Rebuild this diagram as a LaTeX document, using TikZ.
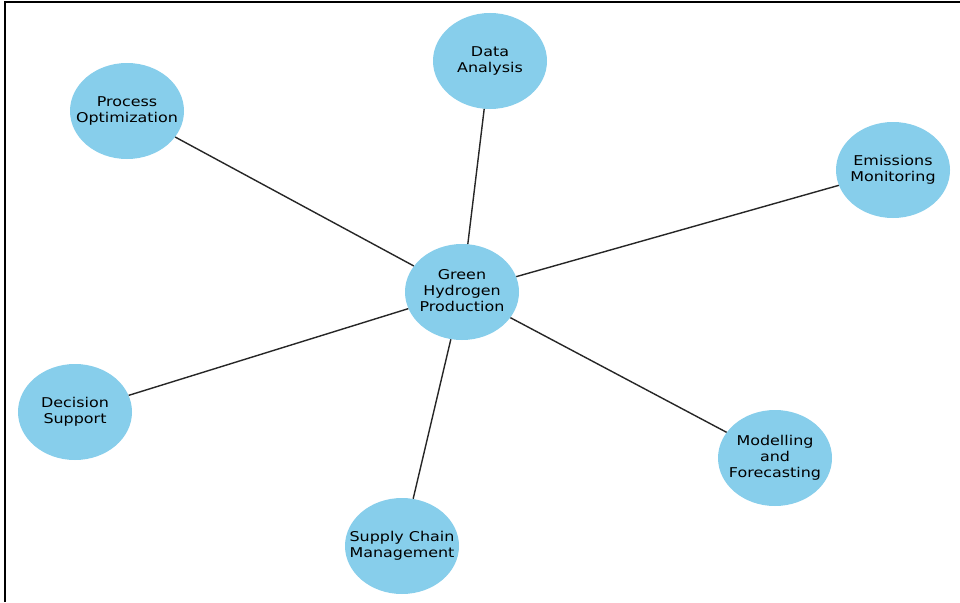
\documentclass[tikz,border=0pt]{standalone}
\usepackage{fontspec}
\setmainfont{DejaVu Sans}
\usetikzlibrary{shapes.geometric}
\definecolor{nodeblue}{HTML}{87CEEB}
\definecolor{edgegray}{HTML}{262626}
\newcommand{\lbl}[1]{\scalebox{1.18}[1]{\fontsize{13.5}{16}\selectfont\begin{tabular}{@{}c@{}}#1\end{tabular}}}
\tikzset{
  topic/.style={ellipse, fill=nodeblue, draw=none, minimum width=114pt, minimum height=96pt, inner sep=0pt,
    label={[text=black, inner sep=0pt]center:\lbl{#1}}},
  link/.style={draw=edgegray, line width=1.4pt},
  frame/.style={draw=black, line width=2pt}
}
\begin{document}
\begin{tikzpicture}[x=1pt, y=-1pt]
\useasboundingbox (0,0) rectangle (960,602);
\fill[white] (0,0) rectangle (960,602);
\coordinate (fbl) at (5,602);
\coordinate (ftl) at (5,2.5);
\coordinate (ftr) at (960,2.5);
\draw[frame] (fbl) -- (ftl) -- (ftr);
\node[topic={Green\\Hydrogen\\Production}] (center) at (462,292) {};
\node[topic={Data\\Analysis}] (data) at (490,61) {};
\node[topic={Process\\Optimization}] (proc) at (127,111) {};
\node[topic={Emissions\\Monitoring}] (emis) at (893,170) {};
\node[topic={Decision\\Support}] (dec) at (75,412) {};
\node[topic={Supply Chain\\Management}] (supply) at (402,546) {};
\node[topic={Modelling\\and\\Forecasting}] (model) at (775,458) {};
\draw[link] (center) -- (data);
\draw[link] (center) -- (proc);
\draw[link] (center) -- (emis);
\draw[link] (center) -- (dec);
\draw[link] (center) -- (supply);
\draw[link] (center) -- (model);
\end{tikzpicture}
\end{document}
